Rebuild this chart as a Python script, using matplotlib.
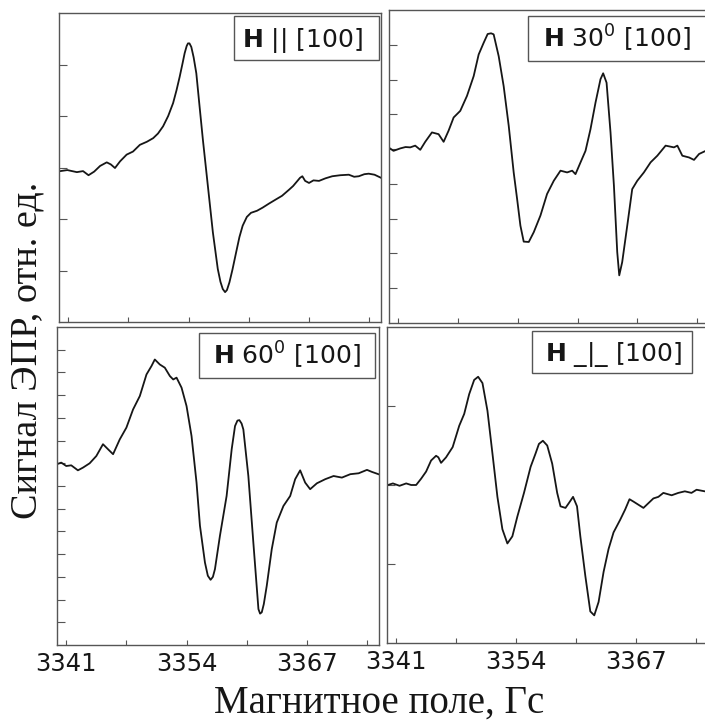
import numpy as np
import matplotlib.pyplot as plt
from matplotlib.patches import Rectangle
from matplotlib.ticker import MultipleLocator, NullFormatter

plt.rcParams['font.family'] = ['DejaVu Sans']
plt.rcParams['mathtext.fontset'] = 'dejavusans'

# EPR spectra, field in Gs, signal in arbitrary units

# H || [100]
field_par = [3340.14, 3340.9, 3341.93, 3342.6, 3343.19, 3343.8, 3344.44, 3345.16, 3345.6,
             3346.05, 3346.6, 3347.31, 3348.0, 3348.74, 3349.5, 3350.18, 3350.7, 3351.25,
             3351.8, 3352.33, 3352.7, 3353.04, 3353.35, 3353.58, 3353.8, 3353.94, 3354.1,
             3354.30, 3354.55, 3354.84, 3355.19, 3355.55, 3356.09, 3356.63, 3357.16,
             3357.45, 3357.70, 3357.95, 3358.15, 3358.42, 3358.75, 3359.14, 3359.5,
             3359.85, 3360.3, 3360.75, 3361.4, 3362.00, 3362.7, 3363.44, 3364.1, 3364.87,
             3365.3, 3365.77, 3366.05, 3366.30, 3366.6, 3367.02, 3367.5, 3368.10, 3368.8,
             3369.53, 3370.4, 3371.32, 3371.9, 3372.40, 3373.0, 3373.47, 3374.1, 3374.80]
signal_par = [-0.07, -0.05, -0.09, -0.07, -0.15, -0.08, 0.03, 0.10, 0.06,
              -0.01, 0.12, 0.25, 0.31, 0.44, 0.50, 0.57, 0.66, 0.80,
              1.00, 1.25, 1.50, 1.76, 2.02, 2.22, 2.36, 2.41, 2.41,
              2.34, 2.14, 1.83, 1.19, 0.54, -0.36, -1.26, -1.97,
              -2.22, -2.36, -2.42, -2.38, -2.23, -1.98, -1.65, -1.35,
              -1.13, -0.96, -0.88, -0.84, -0.78, -0.70, -0.62, -0.55, -0.43,
              -0.36, -0.26, -0.20, -0.17, -0.26, -0.30, -0.25, -0.26, -0.21,
              -0.17, -0.15, -0.14, -0.18, -0.17, -0.13, -0.12, -0.14, -0.20]

# H 30 deg [100]
field_30 = [3339.95, 3340.49, 3341.22, 3341.8, 3342.31, 3342.85, 3343.40, 3343.94, 3344.67,
            3345.39, 3345.94, 3346.48, 3347.03, 3347.75, 3348.48, 3349.21, 3349.75,
            3350.30, 3350.73, 3351.1, 3351.38, 3351.93, 3352.47, 3353.02, 3353.56,
            3353.93, 3354.29, 3354.65, 3355.20, 3355.74, 3356.47, 3357.19, 3357.92,
            3358.65, 3359.37, 3359.92, 3360.28, 3360.83, 3361.37, 3361.91, 3362.46,
            3363.00, 3363.29, 3363.66, 3364.09, 3364.46, 3364.82, 3365.04, 3365.36,
            3365.91, 3366.45, 3367.00, 3367.72, 3368.45, 3369.18, 3370.08, 3370.99,
            3371.36, 3371.90, 3372.63, 3373.17, 3373.72, 3374.44, 3374.99]
signal_30 = [0.05, -0.05, 0.02, 0.06, 0.05, 0.10, -0.02, 0.21, 0.48,
             0.43, 0.21, 0.53, 0.91, 1.10, 1.53, 2.10, 2.72,
             3.06, 3.31, 3.33, 3.30, 2.67, 1.81, 0.67, -0.67,
             -1.43, -2.20, -2.66, -2.67, -2.39, -1.91, -1.29, -0.91,
             -0.62, -0.67, -0.62, -0.72, -0.38, -0.05, 0.57, 1.34,
             2.01, 2.18, 1.91, 0.48, -1.05, -2.96, -3.63, -3.25,
             -2.20, -1.15, -0.91, -0.67, -0.38, -0.19, 0.10, 0.05,
             0.10, -0.19, -0.24, -0.31, -0.14, -0.05, 0.10]

# H 60 deg [100]
field_60 = [3339.99, 3340.46, 3341.00, 3341.54, 3342.26, 3342.81, 3343.53, 3344.25, 3344.97,
            3345.51, 3346.06, 3346.78, 3347.50, 3348.22, 3348.95, 3349.67, 3350.21,
            3350.57, 3351.11, 3351.65, 3352.20, 3352.56, 3352.92, 3353.46, 3354.00,
            3354.54, 3355.08, 3355.45, 3355.99, 3356.30, 3356.60, 3356.85, 3357.07,
            3357.61, 3358.33, 3358.88, 3359.24, 3359.50, 3359.71, 3359.95, 3360.14,
            3360.68, 3361.22, 3361.77, 3361.95, 3362.13, 3362.35, 3362.67, 3363.21,
            3363.75, 3364.47, 3365.20, 3365.74, 3366.28, 3366.82, 3367.36, 3368.09,
            3368.99, 3369.89, 3370.79, 3371.70, 3372.60, 3373.50, 3374.04, 3374.95]
signal_60 = [-0.04, 0.03, -0.12, -0.09, -0.31, -0.19, 0.00, 0.32, 0.84,
             0.62, 0.40, 1.05, 1.57, 2.37, 2.96, 3.91, 4.28,
             4.57, 4.35, 4.21, 3.84, 3.69, 3.77, 3.33, 2.52,
             1.20, -0.85, -2.75, -4.37, -4.95, -5.13, -5.00, -4.66,
             -3.19, -1.44, 0.62, 1.64, 1.88, 1.90, 1.75, 1.49,
             -0.56, -3.49, -6.42, -6.62, -6.56, -6.20, -5.39, -3.78,
             -2.61, -1.88, -1.44, -0.70, -0.31, -0.85, -1.14, -0.88,
             -0.70, -0.56, -0.63, -0.48, -0.44, -0.29, -0.38, -0.51]

# H _|_ [100]
field_perp = [3340.10, 3340.64, 3341.36, 3342.08, 3342.62, 3343.16, 3343.70, 3344.24, 3344.78,
              3345.32, 3345.57, 3345.86, 3346.40, 3347.12, 3347.83, 3348.37, 3348.91,
              3349.45, 3349.88, 3350.35, 3350.89, 3351.43, 3351.97, 3352.51, 3353.05,
              3353.59, 3354.13, 3354.85, 3355.57, 3356.11, 3356.47, 3356.90, 3357.37,
              3357.91, 3358.45, 3358.81, 3359.35, 3359.71, 3360.17, 3360.60, 3360.96,
              3361.50, 3362.04, 3362.47, 3362.94, 3363.48, 3364.02, 3364.56, 3365.28,
              3365.82, 3366.29, 3366.72, 3367.26, 3367.80, 3368.34, 3368.88, 3369.42,
              3369.96, 3370.86, 3371.58, 3372.29, 3373.01, 3373.56, 3374.45]
signal_perp = [0.00, 0.02, -0.01, 0.02, 0.00, 0.00, 0.08, 0.17, 0.31,
               0.37, 0.35, 0.28, 0.35, 0.48, 0.75, 0.90, 1.15,
               1.33, 1.37, 1.29, 0.94, 0.40, -0.15, -0.56, -0.74,
               -0.65, -0.40, -0.10, 0.23, 0.40, 0.52, 0.56, 0.50,
               0.27, -0.10, -0.27, -0.29, -0.23, -0.15, -0.27, -0.65,
               -1.15, -1.60, -1.65, -1.48, -1.10, -0.81, -0.60, -0.44,
               -0.31, -0.18, -0.21, -0.25, -0.29, -0.23, -0.17, -0.15,
               -0.10, -0.13, -0.10, -0.08, -0.10, -0.06, -0.08]

labels = [r'$\mathbf{H}$ || [100]', r'$\mathbf{H}$ 30$^{0}$ [100]',
          r'$\mathbf{H}$ 60$^{0}$ [100]', r'$\mathbf{H}$ _|_ [100]']
y_limits = [(-3, 3), (-5, 4), (-8, 6), (-2, 2)]

W, H = 705, 720
fig = plt.figure(figsize=(W / 100, H / 100), dpi=100)


def fig_xy(px, py):
    return px / W, 1 - py / H


# panel frames in pixels: left, top, right, bottom
frames = [(59, 13, 381, 322), (389, 10, 709, 323), (57, 327, 379, 645), (387, 327, 708, 643)]
# label boxes in pixels: left, top, right, bottom
boxes = [(234, 16, 379, 60), (528, 16, 712, 61), (199, 333, 375, 378), (532, 331, 692, 373)]
text_x = [302, 617, 287, 614]
spectra = [(field_par, signal_par), (field_30, signal_30),
           (field_60, signal_60), (field_perp, signal_perp)]

for i, (frame, (fx, sy)) in enumerate(zip(frames, spectra)):
    l, t, r, b = frame
    x0, y0 = fig_xy(l, b)
    ax = fig.add_axes([x0, y0, (r - l) / W, (b - t) / H])
    ax.plot(fx, sy, color='#161616', lw=1.3)
    ax.set_xlim(3340.0, 3374.8)
    ax.set_ylim(*y_limits[i])
    lo, hi = y_limits[i]
    ax.set_yticks(np.arange(lo + 1, hi))
    ax.yaxis.set_major_formatter(NullFormatter())
    ax.xaxis.set_major_locator(MultipleLocator(13))
    ax.xaxis.set_minor_locator(MultipleLocator(6.5))
    ax.tick_params(axis='both', which='both', direction='in', color='#555555', width=0.8)
    ax.tick_params(axis='y', length=5.5)
    ax.tick_params(axis='x', which='both', length=3.8, labelsize=17.5, pad=5,
                   labelcolor='#161616')
    if i < 2:
        ax.xaxis.set_major_formatter(NullFormatter())
    for sp in ax.spines.values():
        sp.set_color('#555555')
        sp.set_linewidth(1.0)

    # orientation label in a framed box
    bl, bt, br, bb = boxes[i]
    bx, by = fig_xy(bl, bb)
    ax.add_patch(Rectangle((bx, by), (br - bl) / W, (bb - bt) / H, transform=fig.transFigure,
                           fc='white', ec='#555555', lw=1.0, zorder=3, clip_on=False))
    tx, ty = fig_xy(text_x[i], (bt + bb) / 2 + 9)
    fig.text(tx, ty, labels[i], ha='center', va='baseline', fontsize=18,
             color='#161616', zorder=4)

fig.text(*fig_xy(27, 350), 'Сигнал ЭПР, отн. ед.', rotation=90, ha='center', va='center',
         family='Liberation Serif', fontsize=27.5, color='#161616')
fig.text(*fig_xy(379, 703), 'Магнитное поле, Гс', ha='center', va='center',
         family='Liberation Serif', fontsize=28, color='#161616')

fig.savefig('out.png', dpi=100)
